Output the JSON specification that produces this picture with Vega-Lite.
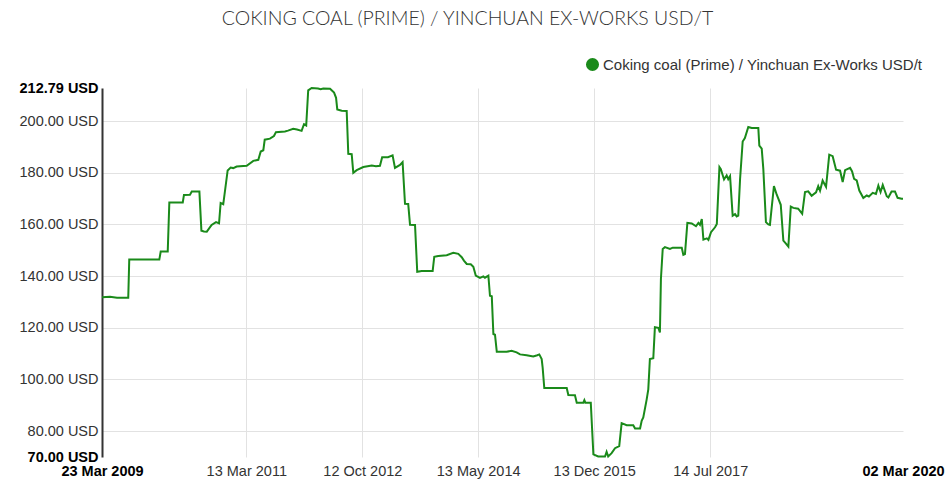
{
  "$schema": "https://vega.github.io/schema/vega-lite/v6.json",
  "width": 801,
  "height": 369,
  "autosize": {"type": "none"},
  "padding": {"left": 102, "top": 88, "right": 46, "bottom": 33},
  "background": "white",
  "title": {
    "text": "COKING COAL (PRIME) / YINCHUAN EX-WORKS USD/T",
    "font": "Lato",
    "fontWeight": 300,
    "fontSize": 19.5,
    "color": "#333333",
    "anchor": "middle",
    "dx": -35,
    "offset": 28
  },
  "config": {
    "view": {"stroke": null},
    "axis": {"labelFont": "Liberation Sans", "labelFontSize": 14.5, "labelColor": "#333333"}
  },
  "data": {
    "values": [
      {"date": "2009-03-23", "price": 131.8},
      {"date": "2009-05-02", "price": 132.0},
      {"date": "2009-06-06", "price": 131.6},
      {"date": "2009-08-01", "price": 131.6},
      {"date": "2009-08-06", "price": 146.4},
      {"date": "2010-01-03", "price": 146.4},
      {"date": "2010-01-10", "price": 149.5},
      {"date": "2010-02-14", "price": 149.5},
      {"date": "2010-02-22", "price": 168.5},
      {"date": "2010-04-30", "price": 168.5},
      {"date": "2010-05-06", "price": 171.4},
      {"date": "2010-06-05", "price": 171.5},
      {"date": "2010-06-14", "price": 172.7},
      {"date": "2010-07-22", "price": 172.7},
      {"date": "2010-08-01", "price": 157.6},
      {"date": "2010-08-14", "price": 157.3},
      {"date": "2010-08-28", "price": 157.2},
      {"date": "2010-09-21", "price": 159.8},
      {"date": "2010-10-13", "price": 160.9},
      {"date": "2010-10-28", "price": 160.4},
      {"date": "2010-11-05", "price": 168.3},
      {"date": "2010-11-18", "price": 167.8},
      {"date": "2010-12-10", "price": 180.9},
      {"date": "2010-12-25", "price": 182.0},
      {"date": "2011-01-07", "price": 181.8},
      {"date": "2011-01-24", "price": 182.4},
      {"date": "2011-03-15", "price": 182.7},
      {"date": "2011-04-17", "price": 184.6},
      {"date": "2011-05-12", "price": 185.0},
      {"date": "2011-05-24", "price": 188.2},
      {"date": "2011-06-06", "price": 188.7},
      {"date": "2011-06-13", "price": 192.8},
      {"date": "2011-07-09", "price": 193.2},
      {"date": "2011-07-29", "price": 194.2},
      {"date": "2011-08-08", "price": 195.7},
      {"date": "2011-09-22", "price": 196.0},
      {"date": "2011-10-07", "price": 196.3},
      {"date": "2011-11-02", "price": 197.0},
      {"date": "2011-11-21", "price": 196.7},
      {"date": "2011-12-14", "price": 196.2},
      {"date": "2011-12-26", "price": 198.8},
      {"date": "2012-01-06", "price": 198.3},
      {"date": "2012-01-16", "price": 211.9},
      {"date": "2012-02-02", "price": 212.8},
      {"date": "2012-03-05", "price": 212.6},
      {"date": "2012-03-18", "price": 212.3},
      {"date": "2012-03-31", "price": 212.6},
      {"date": "2012-05-04", "price": 212.5},
      {"date": "2012-05-24", "price": 211.0},
      {"date": "2012-06-03", "price": 209.0},
      {"date": "2012-06-09", "price": 204.5},
      {"date": "2012-07-01", "price": 204.0},
      {"date": "2012-07-26", "price": 203.9},
      {"date": "2012-08-03", "price": 187.3},
      {"date": "2012-08-20", "price": 187.2},
      {"date": "2012-08-28", "price": 180.0},
      {"date": "2012-09-14", "price": 181.0},
      {"date": "2012-10-17", "price": 182.2},
      {"date": "2012-11-28", "price": 182.8},
      {"date": "2012-12-19", "price": 182.5},
      {"date": "2013-01-08", "price": 182.7},
      {"date": "2013-01-19", "price": 186.0},
      {"date": "2013-02-17", "price": 186.0},
      {"date": "2013-03-12", "price": 186.7},
      {"date": "2013-03-24", "price": 181.9},
      {"date": "2013-04-18", "price": 183.0},
      {"date": "2013-05-01", "price": 184.1},
      {"date": "2013-05-13", "price": 168.0},
      {"date": "2013-05-29", "price": 167.9},
      {"date": "2013-06-07", "price": 159.9},
      {"date": "2013-07-02", "price": 159.8},
      {"date": "2013-07-13", "price": 141.7},
      {"date": "2013-08-04", "price": 142.0},
      {"date": "2013-09-28", "price": 142.0},
      {"date": "2013-10-06", "price": 147.5},
      {"date": "2013-10-26", "price": 147.8},
      {"date": "2013-12-07", "price": 148.1},
      {"date": "2014-01-09", "price": 149.0},
      {"date": "2014-02-03", "price": 148.6},
      {"date": "2014-02-20", "price": 147.3},
      {"date": "2014-03-03", "price": 146.0},
      {"date": "2014-03-17", "price": 144.7},
      {"date": "2014-04-06", "price": 144.6},
      {"date": "2014-04-19", "price": 143.6},
      {"date": "2014-05-01", "price": 140.2},
      {"date": "2014-05-22", "price": 139.3},
      {"date": "2014-06-08", "price": 139.9},
      {"date": "2014-06-16", "price": 139.4},
      {"date": "2014-07-03", "price": 140.2},
      {"date": "2014-07-11", "price": 132.4},
      {"date": "2014-07-20", "price": 132.2},
      {"date": "2014-07-28", "price": 117.6},
      {"date": "2014-08-05", "price": 117.3},
      {"date": "2014-08-14", "price": 110.7},
      {"date": "2014-10-02", "price": 110.7},
      {"date": "2014-10-27", "price": 111.1},
      {"date": "2014-11-21", "price": 110.5},
      {"date": "2014-12-08", "price": 109.7},
      {"date": "2015-01-10", "price": 109.4},
      {"date": "2015-02-12", "price": 108.9},
      {"date": "2015-03-04", "price": 109.4},
      {"date": "2015-03-14", "price": 109.7},
      {"date": "2015-03-26", "price": 107.9},
      {"date": "2015-03-31", "price": 104.5},
      {"date": "2015-04-08", "price": 96.7},
      {"date": "2015-07-29", "price": 96.7},
      {"date": "2015-08-06", "price": 94.0},
      {"date": "2015-09-08", "price": 93.9},
      {"date": "2015-09-17", "price": 91.0},
      {"date": "2015-10-20", "price": 91.0},
      {"date": "2015-10-25", "price": 92.0},
      {"date": "2015-10-30", "price": 91.0},
      {"date": "2015-11-26", "price": 91.0},
      {"date": "2015-12-09", "price": 71.0},
      {"date": "2016-01-02", "price": 70.2},
      {"date": "2016-02-05", "price": 70.2},
      {"date": "2016-02-13", "price": 72.0},
      {"date": "2016-02-21", "price": 70.2},
      {"date": "2016-03-09", "price": 71.5},
      {"date": "2016-03-26", "price": 73.4},
      {"date": "2016-04-16", "price": 74.2},
      {"date": "2016-04-28", "price": 83.1},
      {"date": "2016-05-23", "price": 82.3},
      {"date": "2016-06-25", "price": 82.3},
      {"date": "2016-07-04", "price": 81.0},
      {"date": "2016-07-29", "price": 81.0},
      {"date": "2016-08-06", "price": 84.0},
      {"date": "2016-08-14", "price": 85.3},
      {"date": "2016-08-31", "price": 92.3},
      {"date": "2016-09-08", "price": 96.2},
      {"date": "2016-09-16", "price": 107.9},
      {"date": "2016-10-03", "price": 108.2},
      {"date": "2016-10-11", "price": 120.2},
      {"date": "2016-10-28", "price": 120.0},
      {"date": "2016-11-05", "price": 118.2},
      {"date": "2016-11-10", "price": 138.9},
      {"date": "2016-11-19", "price": 150.5},
      {"date": "2016-11-30", "price": 151.2},
      {"date": "2016-12-25", "price": 150.5},
      {"date": "2017-01-08", "price": 151.0},
      {"date": "2017-02-22", "price": 151.0},
      {"date": "2017-03-02", "price": 148.2},
      {"date": "2017-03-10", "price": 148.5},
      {"date": "2017-03-22", "price": 160.6},
      {"date": "2017-04-13", "price": 160.4},
      {"date": "2017-05-04", "price": 159.3},
      {"date": "2017-05-16", "price": 160.6},
      {"date": "2017-05-24", "price": 159.8},
      {"date": "2017-06-02", "price": 162.1},
      {"date": "2017-06-10", "price": 154.1},
      {"date": "2017-06-27", "price": 154.6},
      {"date": "2017-07-05", "price": 154.0},
      {"date": "2017-07-18", "price": 157.0},
      {"date": "2017-08-07", "price": 158.9},
      {"date": "2017-08-16", "price": 160.2},
      {"date": "2017-08-29", "price": 182.2},
      {"date": "2017-09-05", "price": 181.4},
      {"date": "2017-09-21", "price": 177.4},
      {"date": "2017-10-04", "price": 179.0},
      {"date": "2017-10-12", "price": 177.5},
      {"date": "2017-10-21", "price": 178.7},
      {"date": "2017-11-03", "price": 163.4},
      {"date": "2017-11-15", "price": 164.0},
      {"date": "2017-11-23", "price": 163.1},
      {"date": "2017-12-01", "price": 163.4},
      {"date": "2017-12-10", "price": 177.6},
      {"date": "2017-12-23", "price": 192.1},
      {"date": "2018-01-03", "price": 193.4},
      {"date": "2018-01-20", "price": 197.7},
      {"date": "2018-02-06", "price": 197.3},
      {"date": "2018-03-11", "price": 197.3},
      {"date": "2018-03-16", "price": 190.5},
      {"date": "2018-03-28", "price": 189.3},
      {"date": "2018-04-05", "price": 181.5},
      {"date": "2018-04-18", "price": 160.9},
      {"date": "2018-04-30", "price": 160.0},
      {"date": "2018-05-08", "price": 159.8},
      {"date": "2018-05-17", "price": 166.7},
      {"date": "2018-05-28", "price": 174.8},
      {"date": "2018-06-11", "price": 171.5},
      {"date": "2018-07-01", "price": 167.6},
      {"date": "2018-07-14", "price": 153.7},
      {"date": "2018-07-27", "price": 152.6},
      {"date": "2018-08-08", "price": 151.4},
      {"date": "2018-08-20", "price": 166.9},
      {"date": "2018-09-02", "price": 166.4},
      {"date": "2018-09-26", "price": 166.1},
      {"date": "2018-10-16", "price": 164.1},
      {"date": "2018-10-30", "price": 172.5},
      {"date": "2018-11-15", "price": 172.8},
      {"date": "2018-12-02", "price": 171.1},
      {"date": "2018-12-24", "price": 172.4},
      {"date": "2019-01-04", "price": 174.8},
      {"date": "2019-01-13", "price": 173.0},
      {"date": "2019-01-26", "price": 177.0},
      {"date": "2019-02-12", "price": 174.5},
      {"date": "2019-02-28", "price": 187.0},
      {"date": "2019-03-17", "price": 186.4},
      {"date": "2019-04-03", "price": 181.2},
      {"date": "2019-04-23", "price": 180.8},
      {"date": "2019-05-06", "price": 176.4},
      {"date": "2019-05-18", "price": 181.0},
      {"date": "2019-06-12", "price": 181.9},
      {"date": "2019-06-22", "price": 180.5},
      {"date": "2019-07-02", "price": 177.6},
      {"date": "2019-07-15", "price": 177.0},
      {"date": "2019-07-28", "price": 173.1},
      {"date": "2019-08-17", "price": 170.2},
      {"date": "2019-09-03", "price": 171.2},
      {"date": "2019-09-14", "price": 170.8},
      {"date": "2019-10-03", "price": 172.2},
      {"date": "2019-10-19", "price": 171.8},
      {"date": "2019-10-31", "price": 175.0},
      {"date": "2019-11-11", "price": 172.5},
      {"date": "2019-11-22", "price": 175.3},
      {"date": "2019-12-12", "price": 170.9},
      {"date": "2019-12-20", "price": 170.4},
      {"date": "2020-01-05", "price": 172.7},
      {"date": "2020-01-22", "price": 172.7},
      {"date": "2020-02-04", "price": 170.3},
      {"date": "2020-02-24", "price": 169.9},
      {"date": "2020-03-02", "price": 169.9}
    ]
  },
  "mark": {"type": "line", "strokeWidth": 2, "interpolate": "linear"},
  "encoding": {
    "x": {
      "field": "date",
      "type": "temporal",
      "scale": {
        "type": "utc",
        "domain": [
          {"year": 2009, "month": 3, "date": 23, "utc": true},
          {"year": 2020, "month": 3, "date": 2, "utc": true}
        ]
      },
      "axis": {
        "title": null,
        "domain": false,
        "ticks": false,
        "labelPadding": 7,
        "values": [
          {"year": 2009, "month": 3, "date": 23, "utc": true},
          {"year": 2011, "month": 3, "date": 13, "utc": true},
          {"year": 2012, "month": 10, "date": 12, "utc": true},
          {"year": 2014, "month": 5, "date": 13, "utc": true},
          {"year": 2015, "month": 12, "date": 13, "utc": true},
          {"year": 2017, "month": 7, "date": 14, "utc": true},
          {"year": 2020, "month": 3, "date": 2, "utc": true}
        ],
        "labelExpr": "utcFormat(datum.value, '%d %b %Y')",
        "labelFontWeight": {"condition": {"test": "datum.index === 0 || datum.index === 1", "value": "bold"}, "value": "normal"},
        "labelColor": {"condition": {"test": "datum.index === 0 || datum.index === 1", "value": "#000000"}, "value": "#333333"},
        "labelOverlap": false,
        "labelFlush": false,
        "grid": true,
        "gridColor": "#e2e2e2",
        "gridWidth": 1,
        "gridOpacity": {"condition": {"test": "datum.index === 0 || datum.index === 1", "value": 0}, "value": 1}
      }
    },
    "y": {
      "field": "price",
      "type": "quantitative",
      "scale": {"domain": [70, 212.79], "nice": false, "zero": false},
      "axis": {
        "title": null,
        "values": [70, 80, 90, 100, 110, 120, 130, 140, 150, 160, 170, 180, 190, 200, 212.79],
        "labelExpr": "datum.value % 20 === 0 || datum.value === 70 || datum.value === 212.79 ? format(datum.value, '.2f') + ' USD' : ''",
        "ticks": false,
        "labelPadding": 4,
        "labelOverlap": false,
        "labelFlush": false,
        "domain": true,
        "domainColor": "#333333",
        "domainWidth": 2,
        "labelFontWeight": {"condition": {"test": "datum.value === 70 || datum.value === 212.79", "value": "bold"}, "value": "normal"},
        "labelColor": {"condition": {"test": "datum.value === 70 || datum.value === 212.79", "value": "#000000"}, "value": "#333333"},
        "grid": true,
        "gridColor": "#e2e2e2",
        "gridWidth": 1,
        "gridOpacity": {"condition": {"test": "datum.value % 20 === 0 && datum.value !== 220", "value": 1}, "value": 0}
      }
    },
    "color": {
      "datum": "Coking coal (Prime) / Yinchuan Ex-Works USD/t",
      "type": "nominal",
      "scale": {"range": ["#1a8a1a"]},
      "legend": {
        "title": null,
        "orient": "none",
        "legendX": 483,
        "legendY": -31,
        "symbolType": "circle",
        "symbolSize": 170,
        "labelFont": "Liberation Sans",
        "labelFontSize": 15,
        "labelColor": "#333333",
        "labelLimit": 400,
        "labelOffset": 3,
        "encode": {"symbols": {"update": {"fill": {"value": "#1a8a1a"}, "strokeWidth": {"value": 0}, "opacity": {"value": 1}}}}
      }
    }
  }
}
